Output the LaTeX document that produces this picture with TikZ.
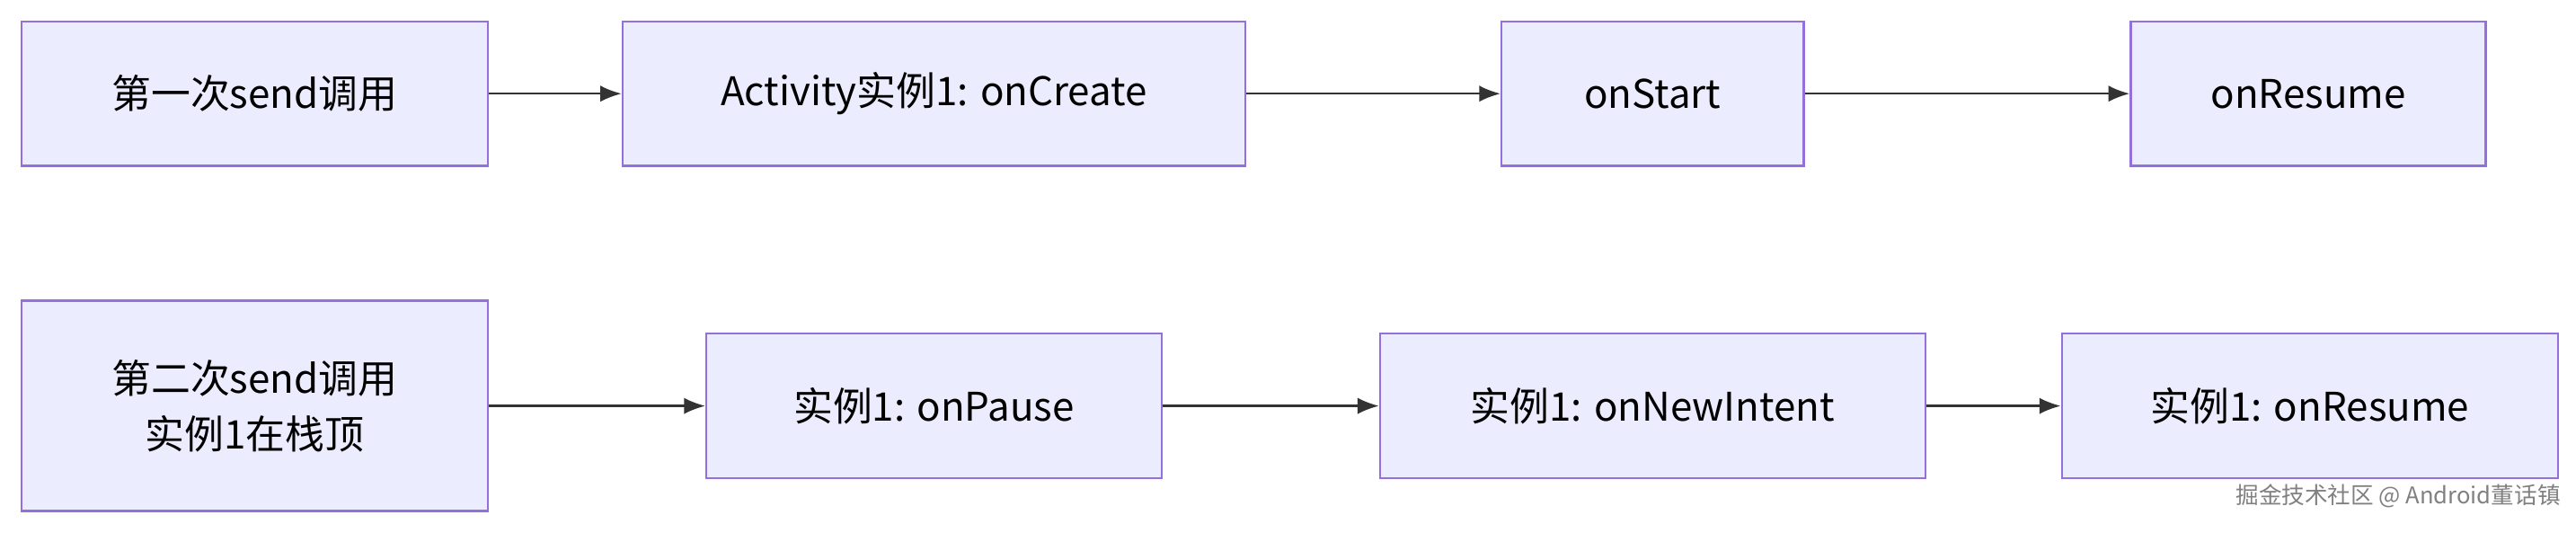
\documentclass[tikz,border=0pt]{standalone}
\usepackage{fontspec}
\setmainfont{Noto Sans CJK SC}
\usetikzlibrary{arrows.meta, positioning}
\definecolor{boxfill}{HTML}{ECECFF}
\definecolor{boxline}{HTML}{9370DB}
\definecolor{flow}{HTML}{333333}
\tikzset{
    stage/.style={draw=boxline, fill=boxfill, line width=1.3pt, inner sep=0pt,
      minimum height=88pt, align=center, font=\fontsize{24}{34}\selectfont},
    go/.style={draw=flow, line width=1.3pt, -{Latex[length=13pt,width=10pt]}},
}
\begin{document}
\begin{tikzpicture}[x=1pt, y=1pt]
    \useasboundingbox (0,0) rectangle (1568,324);

    % first call
    \node[stage, minimum width=284pt] (first) at (155,267) {第一次send调用};
    \node[stage, minimum width=379pt] (create) at (568.5,267) {Activity实例1: onCreate};
    \node[stage, minimum width=184pt] (start) at (1006,267) {onStart};
    \node[stage, minimum width=216pt] (resume) at (1405,267) {onResume};

    % second call
    \node[stage, minimum width=284pt, minimum height=128pt] (second) at (155,77) {第二次send调用\\实例1在栈顶};
    \node[stage, minimum width=277pt] (pause) at (568.5,77) {实例1: onPause};
    \node[stage, minimum width=332pt] (intent) at (1006,77) {实例1: onNewIntent};
    \node[stage, minimum width=302pt] (resume2) at (1406,77) {实例1: onResume};

    \draw[go] (first) -- (create);
    \draw[go] (create) -- (start);
    \draw[go] (start) -- (resume);
    \draw[go] (second) -- (pause);
    \draw[go] (pause) -- (intent);
    \draw[go] (intent) -- (resume2);

    \node[text=gray, font=\fontsize{14}{16}\selectfont, anchor=east] (mark) at (1562,22) {掘金技术社区 @ Android董话镇};
\end{tikzpicture}
\end{document}
